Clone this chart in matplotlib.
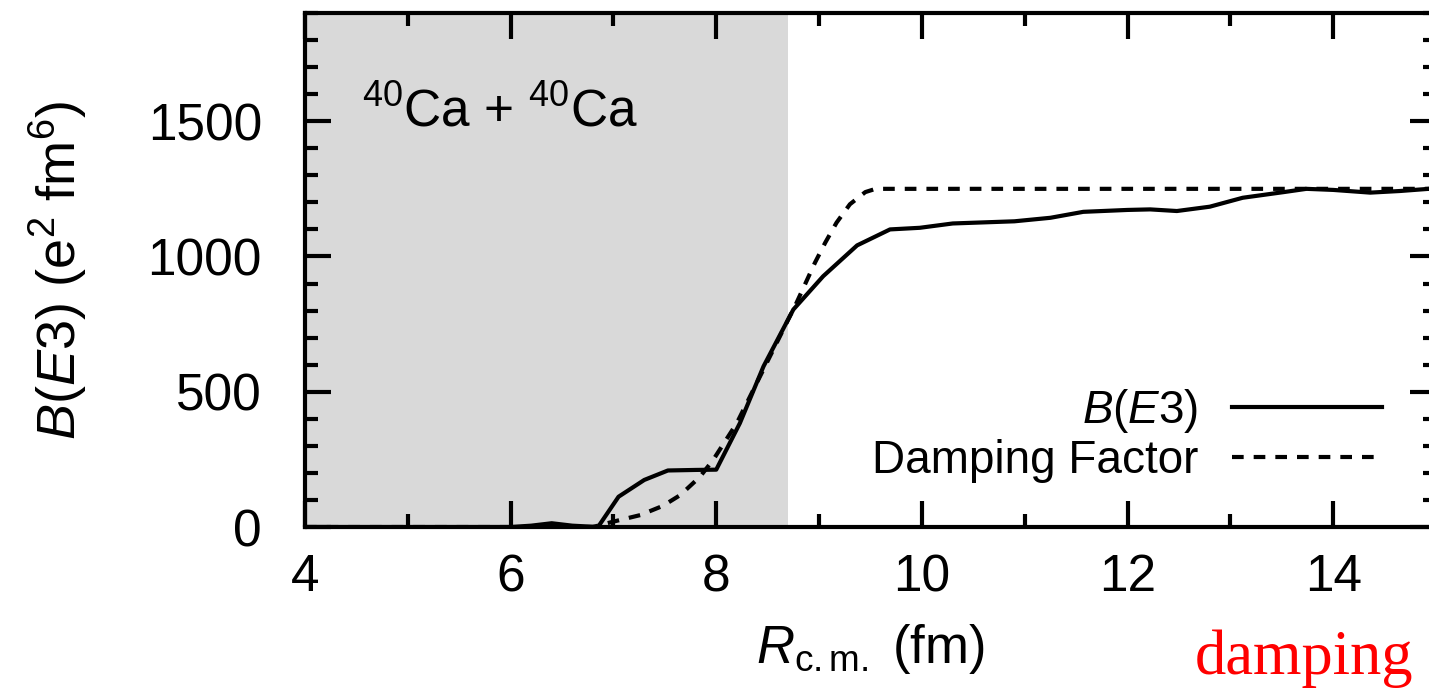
import matplotlib
matplotlib.use("Agg")
import matplotlib.pyplot as plt
from matplotlib.ticker import MultipleLocator

plt.rcParams['font.family'] = ['Liberation Sans', 'DejaVu Sans']
plt.rcParams['mathtext.fontset'] = 'custom'
plt.rcParams['mathtext.rm'] = 'Liberation Sans'
plt.rcParams['mathtext.it'] = 'Liberation Sans:italic'

# B(E3) vs centre-of-mass distance
r_be3 = [4.0, 5.0, 6.0, 6.2, 6.4, 6.6, 6.85, 7.05, 7.3, 7.53, 7.8, 8.0, 8.23, 8.46,
         8.75, 9.04, 9.37, 9.69, 9.98, 10.3, 10.9, 11.25, 11.57, 12.0, 12.22, 12.48,
         12.8, 13.12, 13.52, 13.74, 14.0, 14.36, 14.65, 15.0]
be3 = [0, 0, 0, 5, 14, 5, 0, 112, 174, 209, 211, 212, 384, 594,
       804, 927, 1041, 1100, 1106, 1122, 1130, 1143, 1165, 1172, 1174, 1168,
       1184, 1217, 1238, 1250, 1246, 1236, 1242, 1252]

# damping factor curve
r_damp = [4.0, 6.8, 7.0, 7.26, 7.48, 7.65, 7.84, 7.97, 8.2, 8.49, 8.78, 8.96,
          9.06, 9.17, 9.3, 9.45, 9.55, 15.0]
damp = [0, 0, 20, 44, 78, 118, 185, 248, 384, 606, 828, 977,
        1051, 1125, 1193, 1238, 1250, 1250]

r_shade = 8.7

fig = plt.figure(figsize=(14.29, 6.94), dpi=100)
ax = fig.add_axes([0.2134, 0.2406, 0.7915, 0.7407])

ax.axvspan(4, r_shade, color='#d9d9d9', lw=0, zorder=0)
ax.plot(r_be3, be3, color='black', lw=3, label='$B$($E$3)')
ax.plot(r_damp, damp, color='black', lw=3, dashes=(2.8, 2.4), label='Damping Factor')

ax.set_xlim(4, 15)
ax.set_ylim(0, 1900)
ax.xaxis.set_major_locator(MultipleLocator(2))
ax.xaxis.set_minor_locator(MultipleLocator(1))
ax.yaxis.set_major_locator(MultipleLocator(500))
ax.yaxis.set_minor_locator(MultipleLocator(100))
ax.tick_params(which='both', direction='in', top=True, right=True, width=3,
               labelsize=37)
ax.tick_params(axis='x', pad=19)
ax.tick_params(axis='y', pad=31)
ax.tick_params(which='major', length=19)
ax.tick_params(which='minor', length=9.5)
for s in ax.spines.values():
    s.set_linewidth(3)

ax.set_xlabel(r'$R_{\mathrm{c.m.}}$ (fm)', fontsize=38, labelpad=14)
ax.set_ylabel('$B$($E$3) (e$^2$ fm$^6$)', fontsize=39, labelpad=42)

ax.text(0.05, 0.78, '$^{40}$Ca + $^{40}$Ca', transform=ax.transAxes,
        fontsize=37, va='baseline', ha='left')

ax.legend(loc='lower right', bbox_to_anchor=(0.952, 0.085), frameon=False,
          markerfirst=False, fontsize=33, handlelength=3.27, handletextpad=0.72,
          labelspacing=0.1, borderpad=0, borderaxespad=0)

fig.text(1195 / 1429, 0.029, 'damping', color='red', fontsize=45,
         family='Liberation Serif', ha='left', va='baseline')

fig.savefig('out.png', dpi=100)
